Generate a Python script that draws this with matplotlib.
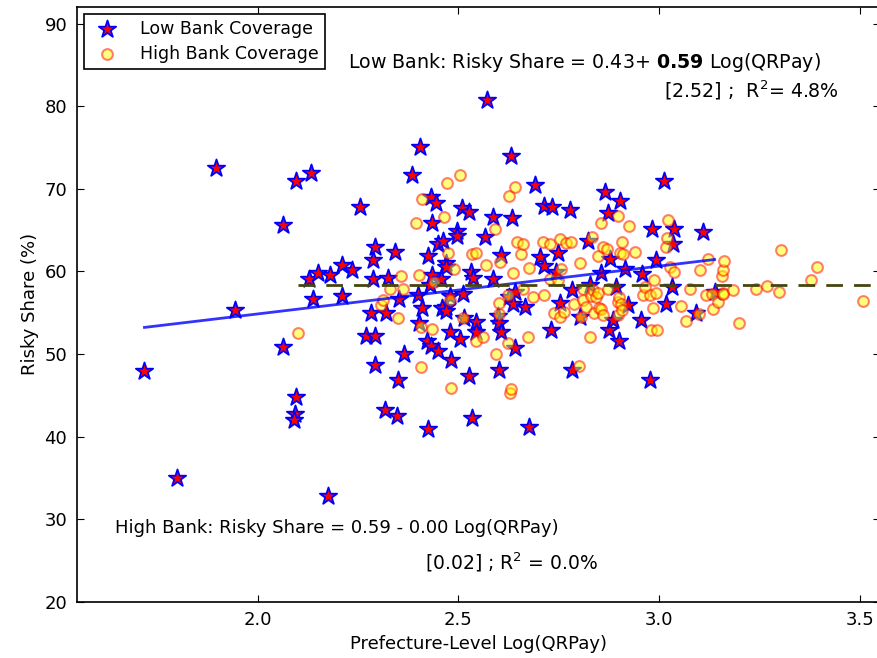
import numpy as np
import matplotlib
matplotlib.use('Agg')
from matplotlib import pyplot as plt

# Low bank coverage prefectures (star markers)
low_x = [1.718, 1.800, 1.897, 1.944, 2.064, 2.064, 2.096, 2.096, 2.094, 2.090,
         2.134, 2.127, 2.137, 2.150, 2.180, 2.176, 2.210, 2.210, 2.234, 2.256,
         2.270, 2.286, 2.293, 2.288, 2.283, 2.291, 2.291, 2.316, 2.324, 2.320,
         2.341, 2.352, 2.348, 2.349, 2.364, 2.385, 2.405, 2.399, 2.410, 2.403,
         2.425, 2.428, 2.432, 2.445, 2.433, 2.421, 2.432, 2.449, 2.424, 2.449,
         2.461, 2.469, 2.468, 2.435, 2.457, 2.478, 2.469, 2.460, 2.470, 2.481,
         2.478, 2.496, 2.496, 2.509, 2.526, 2.511, 2.505, 2.513, 2.526, 2.532,
         2.536, 2.534, 2.543, 2.543, 2.567, 2.570, 2.587, 2.587, 2.599, 2.602,
         2.605, 2.600, 2.607, 2.626, 2.632, 2.634, 2.640, 2.637, 2.640, 2.665,
         2.677, 2.690, 2.702, 2.712, 2.714, 2.731, 2.734, 2.744, 2.748, 2.754,
         2.778, 2.782, 2.783, 2.803, 2.822, 2.827, 2.856, 2.865, 2.872, 2.876,
         2.878, 2.885, 2.893, 2.901, 2.902, 2.916, 2.922, 2.954, 2.956, 2.978,
         2.981, 2.993, 3.012, 3.016, 3.031, 3.034, 3.036, 3.092, 3.109, 3.138]
low_y = [47.9, 35.0, 72.5, 55.3, 65.6, 50.8, 70.9, 44.8, 42.7, 42.0,
         71.9, 59.1, 56.6, 59.8, 59.6, 32.8, 60.8, 57.0, 60.1, 67.8,
         52.2, 61.4, 62.9, 59.1, 54.9, 52.2, 48.7, 43.2, 59.2, 54.9,
         62.3, 56.6, 42.5, 46.9, 50.0, 71.6, 75.1, 57.1, 55.6, 53.7,
         61.8, 58.3, 69.0, 68.3, 65.8, 51.6, 50.9, 50.4, 40.9, 63.3,
         63.7, 61.0, 60.5, 59.5, 59.1, 57.0, 55.7, 55.6, 55.2, 49.3,
         52.7, 64.9, 64.3, 67.7, 67.2, 57.3, 51.8, 54.3, 47.3, 59.9,
         59.2, 42.2, 53.9, 52.6, 64.1, 80.7, 66.6, 59.1, 54.6, 53.7,
         52.7, 48.1, 62.0, 56.9, 74.0, 66.4, 57.5, 56.1, 50.7, 55.7,
         41.1, 70.5, 61.7, 67.9, 60.7, 52.9, 67.8, 59.9, 62.2, 56.2,
         67.4, 57.7, 48.1, 54.5, 63.7, 58.3, 59.8, 69.6, 67.0, 52.9,
         61.5, 54.1, 58.1, 51.6, 68.5, 60.3, 55.9, 54.1, 59.7, 46.9,
         65.1, 61.4, 70.9, 56.1, 58.1, 63.3, 65.1, 54.9, 64.7, 57.5]

# High bank coverage prefectures (circle markers)
high_x = [2.101, 2.307, 2.312, 2.330, 2.349, 2.356, 2.362, 2.395, 2.401, 2.407,
          2.407, 2.410, 2.435, 2.439, 2.463, 2.472, 2.475, 2.478, 2.482, 2.490,
          2.505, 2.511, 2.534, 2.544, 2.543, 2.561, 2.569, 2.591, 2.594, 2.600,
          2.602, 2.604, 2.623, 2.623, 2.627, 2.629, 2.631, 2.635, 2.641, 2.645,
          2.656, 2.660, 2.660, 2.673, 2.677, 2.685, 2.710, 2.714, 2.727, 2.727,
          2.739, 2.748, 2.752, 2.752, 2.755, 2.764, 2.767, 2.781, 2.789, 2.800,
          2.802, 2.806, 2.810, 2.810, 2.818, 2.827, 2.830, 2.832, 2.835, 2.837,
          2.843, 2.847, 2.847, 2.851, 2.854, 2.856, 2.860, 2.860, 2.870, 2.872,
          2.897, 2.897, 2.897, 2.901, 2.903, 2.906, 2.907, 2.908, 2.911, 2.925,
          2.939, 2.959, 2.964, 2.976, 2.980, 2.985, 2.986, 2.991, 2.994, 3.016,
          3.019, 3.022, 3.026, 3.036, 3.055, 3.066, 3.076, 3.099, 3.101, 3.117,
          3.121, 3.132, 3.134, 3.146, 3.157, 3.159, 3.159, 3.160, 3.161, 3.184,
          3.200, 3.242, 3.268, 3.298, 3.304, 3.379, 3.393, 3.508]
high_y = [52.5, 55.9, 56.5, 57.8, 54.3, 59.4, 57.8, 65.8, 59.5, 53.3,
          48.4, 68.7, 53.0, 58.7, 66.6, 70.7, 62.2, 56.5, 45.9, 60.3,
          71.7, 54.3, 62.1, 62.2, 51.6, 52.0, 60.8, 65.1, 50.0, 54.8,
          56.2, 61.1, 57.1, 51.3, 69.1, 45.3, 45.8, 59.8, 70.2, 63.5,
          62.1, 63.3, 57.8, 52.1, 60.4, 56.9, 63.5, 57.1, 63.3, 59.1,
          54.9, 58.9, 63.9, 54.5, 60.3, 55.1, 63.4, 63.6, 56.1, 48.5,
          61.0, 54.5, 57.9, 56.5, 55.7, 52.0, 57.0, 64.1, 57.7, 55.0,
          56.9, 57.4, 61.9, 55.6, 65.9, 55.4, 62.9, 54.7, 62.7, 57.9,
          66.7, 56.3, 54.7, 56.9, 62.2, 56.1, 63.5, 55.3, 62.1, 65.5,
          62.3, 57.1, 58.1, 57.1, 52.9, 55.6, 59.0, 57.4, 52.9, 63.0,
          64.0, 66.2, 60.5, 59.9, 55.8, 54.0, 57.9, 54.8, 60.2, 57.1,
          61.5, 57.2, 55.4, 56.3, 59.4, 60.2, 57.4, 57.3, 61.2, 57.7,
          53.7, 57.8, 58.2, 57.5, 62.6, 59.0, 60.5, 56.4]

# fitted lines (in % units)
low_intercept, low_slope = 43.26, 5.79
high_level = 58.4
high_line_x = [2.10, 3.56]

W, H = 877, 658
fig = plt.figure(figsize=(W / 100, H / 100), dpi=100)
ax = fig.add_axes([77 / W, 1 - 601.7 / H, 803 / W, 594.7 / H])

ax.scatter(low_x, low_y, marker='*', s=170, facecolor='red', edgecolor='blue',
           linewidth=1.3, label='Low Bank Coverage', zorder=2)
ax.scatter(high_x, high_y, marker='o', s=60, facecolor='yellow', edgecolor='red',
           linewidth=1.5, alpha=0.5, label='High Bank Coverage', zorder=3)

lx = np.array([min(low_x), max(low_x)])
ax.plot(lx, low_intercept + low_slope * lx, color='blue', lw=2, alpha=0.8, zorder=4)
ax.plot(high_line_x, [high_level, high_level], color='#45450f', lw=2,
        dashes=(6, 4), zorder=4)

ax.set_xlim(1.55, 3.55)
ax.set_ylim(20, 92)
ax.set_xticks([2.0, 2.5, 3.0, 3.5])
ax.set_yticks(range(20, 91, 10))
ax.tick_params(direction='in', top=True, right=True, labelsize=13, length=5,
               pad=7)
for s in ax.spines.values():
    s.set_linewidth(1.2)

ax.set_xlabel('Prefecture-Level Log(QRPay)', fontsize=13)
ax.set_ylabel('Risky Share (%)', fontsize=13)

leg = ax.legend(loc='upper left', scatterpoints=1, fontsize=12.5, fancybox=False,
                framealpha=1, borderaxespad=0.4, handletextpad=0.9,
                borderpad=0.35, labelspacing=0.4)
leg.get_frame().set_edgecolor('black')
leg.get_frame().set_linewidth(1.2)

fig.text(348 / W, 1 - 62 / H,
         r'Low Bank: Risky Share = 0.43+ $\mathbf{0.59}$ Log(QRPay)',
         fontsize=13.7, va='center', ha='left')
fig.text(839 / W, 1 - 90 / H, r'[2.52] ;  R$^2$= 4.8%',
         fontsize=13.7, va='center', ha='right')
fig.text(115 / W, 1 - 528 / H,
         'High Bank: Risky Share = 0.59 - 0.00 Log(QRPay)',
         fontsize=13, va='center', ha='left')
fig.text(425 / W, 1 - 562 / H, r'[0.02] ; R$^2$ = 0.0%',
         fontsize=13.5, va='center', ha='left')

fig.savefig('out.png', dpi=100)
